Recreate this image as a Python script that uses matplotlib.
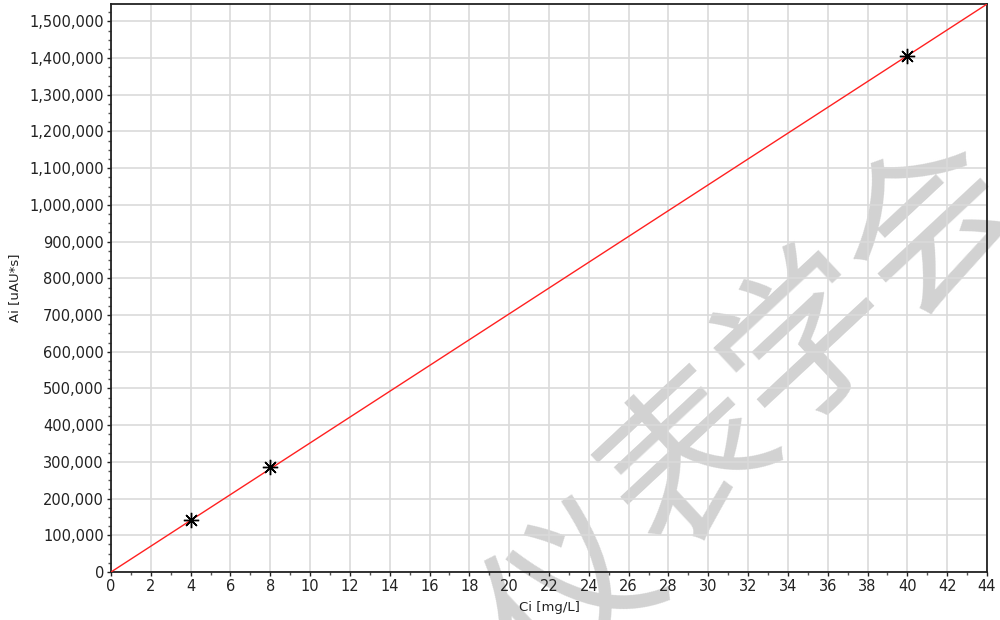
import numpy as np
import matplotlib.pyplot as plt
from matplotlib.ticker import MultipleLocator, FuncFormatter

conc = [4, 8, 40]
area = [143000, 287000, 1405000]

# line through origin fitted to the standards
slope = np.dot(conc, area) / np.dot(conc, conc)
x_line = np.array([0, 44])
y_line = slope * x_line

fig = plt.figure(figsize=(10, 6.2), dpi=100)
ax = fig.add_axes([0.111, 0.0774, 0.876, 0.916])
ax.set_facecolor('none')

ax.plot(x_line, y_line, color='#ff2020', lw=1.0, zorder=3)
ax.plot(conc, area, linestyle='none', marker=(8, 2, 0), markersize=11,
        color='black', mew=1.0, zorder=4)

ax.set_xlim(0, 44)
ax.set_ylim(0, y_line[-1])
ax.xaxis.set_major_locator(MultipleLocator(2))
ax.xaxis.set_minor_locator(MultipleLocator(1))
ax.yaxis.set_major_locator(MultipleLocator(100000))
ax.yaxis.set_minor_locator(MultipleLocator(25000))
ax.yaxis.set_major_formatter(FuncFormatter(lambda v, p: f'{int(round(v)):,}'))

ax.grid(True, which='major', color='#dadada', lw=1.2, zorder=0)
ax.tick_params(which='major', direction='out', length=3, width=1,
               labelsize=10.5, colors='#222222', pad=2)
ax.tick_params(which='minor', direction='out', length=2, width=1, colors='#555555')
for s in ax.spines.values():
    s.set_color('#222222')
    s.set_linewidth(1.3)

ax.set_xlabel('Ci [mg/L]', fontsize=9.5, color='#222222', labelpad=5)
ax.set_ylabel('Ai [uAU*s]', fontsize=9.5, color='#222222', labelpad=6)

# watermark behind the axes, one character at a time along a diagonal
wm_chars = '仪表学会'
wm_centers = [(576, 600), (692, 462), (808, 340), (933, 227)]
for ch, (px, py) in zip(wm_chars, wm_centers):
    fig.text(px / 1000, 1 - py / 620, ch, fontsize=122, color='#d2d2d2',
             family=['Noto Sans CJK SC', 'DejaVu Sans'], fontweight='light',
             rotation=43, ha='center', va='center', rotation_mode='anchor', zorder=-1)

fig.savefig('out.png')
